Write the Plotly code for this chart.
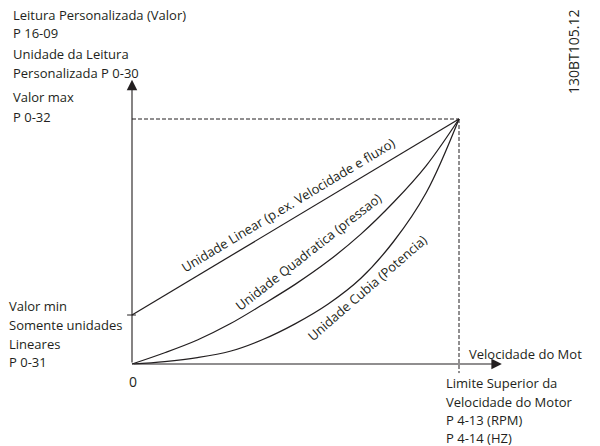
import plotly.graph_objects as go

# Speed as percent of the upper motor speed limit
speed_pct = [0, 10, 20, 30, 40, 50, 60, 70, 80, 90, 100]
# Readout as percent of the max value (P 0-32)
quadratic_pct = [0, 4.6, 9.8, 16.4, 24.3, 32.6, 42, 53, 66, 81, 100]
cubic_pct = [0, 1.0, 2.6, 5.2, 10, 16.5, 24.5, 35, 50, 70, 100]
linear_speed = [0, 100]
linear_pct = [20, 100]
min_value_pct = 20
max_value_pct = 100
max_speed_pct = 100

W, H = 600, 446
FONT = "Open Sans"
INK = "#231f20"


def px(x):
    return x / W


def py(y):
    return 1 - y / H


fig = go.Figure()

line_style = dict(color=INK, width=1.25)
fig.add_trace(go.Scatter(x=linear_speed, y=linear_pct, mode="lines",
                         line=line_style, hoverinfo="skip"))
fig.add_trace(go.Scatter(x=speed_pct, y=quadratic_pct, mode="lines",
                         line=dict(line_style, shape="spline", smoothing=1),
                         hoverinfo="skip"))
fig.add_trace(go.Scatter(x=speed_pct, y=cubic_pct, mode="lines",
                         line=dict(line_style, shape="spline", smoothing=1),
                         hoverinfo="skip"))

# Dashed guides to the max point
dash = dict(color=INK, width=1, dash="4px,2px")
fig.add_shape(type="line", x0=0, x1=max_speed_pct, y0=max_value_pct, y1=max_value_pct, line=dash)
fig.add_shape(type="line", x0=max_speed_pct, x1=max_speed_pct, y0=max_value_pct, y1=-3.7, line=dash)
# Tick for the min value on the vertical axis
fig.add_shape(type="line", x0=-1.5, x1=1.2, y0=min_value_pct, y1=min_value_pct,
              line=dict(color=INK, width=1))

annotations = []

# Axes with arrowheads
for tip_x, tip_y in [(0, 116), (113.1, 0)]:
    annotations.append(dict(x=tip_x, y=tip_y, xref="x", yref="y", ax=0, ay=0,
                            axref="x", ayref="y", text="", showarrow=True,
                            arrowhead=2, arrowsize=1.9, arrowwidth=1.1,
                            arrowcolor=INK, standoff=0, startstandoff=0))


def label(text, x, y, xanchor="left", size=13, angle=0):
    annotations.append(dict(text=text, x=px(x), y=py(y), xref="paper", yref="paper",
                            xanchor=xanchor, yanchor="middle", showarrow=False,
                            textangle=angle,
                            font=dict(family=FONT, size=size, color=INK)))


top_left = [("Leitura Personalizada (Valor)", 15), ("P 16-09", 33),
            ("Unidade da Leitura", 54), ("Personalizada P 0-30", 73),
            ("Valor max", 97), ("P 0-32", 117)]
for t, y in top_left:
    label(t, 11, y)

bottom_left = [("Valor min", 306), ("Somente unidades", 325),
               ("Lineares", 344), ("P 0-31", 362)]
for t, y in bottom_left:
    label(t, 7, y)

bottom_right = [("Limite Superior da", 383), ("Velocidade do Motor", 402),
                ("P 4-13 (RPM)", 420), ("P 4-14 (HZ)", 438)]
for t, y in bottom_right:
    label(t, 444, y)

label("Velocidade do Mot", 467, 354)
label("0", 133, 381, xanchor="center", size=14)
label("130BT105.12", 573, 52, xanchor="center", size=14, angle=-90)

# Curve labels
label("Unidade Linear (p.ex. Velocidade e fluxo)", 288, 205, xanchor="center", angle=-31)
label("Unidade Quadratica (pressao)", 308, 252, xanchor="center", angle=-38)
label("Unidade Cubia (Potencia)", 367, 288, xanchor="center", angle=-41)

fig.update_layout(
    width=W, height=H,
    margin=dict(l=0, r=0, t=0, b=0),
    paper_bgcolor="white", plot_bgcolor="white",
    showlegend=False,
    xaxis=dict(visible=False, range=[-132 * 100 / 327, (W - 132) * 100 / 327], fixedrange=True),
    yaxis=dict(visible=False, range=[-82 * 100 / 245, (H - 82) * 100 / 245], fixedrange=True),
    annotations=annotations,
)

fig.write_html("out.html", config={"displayModeBar": False})
